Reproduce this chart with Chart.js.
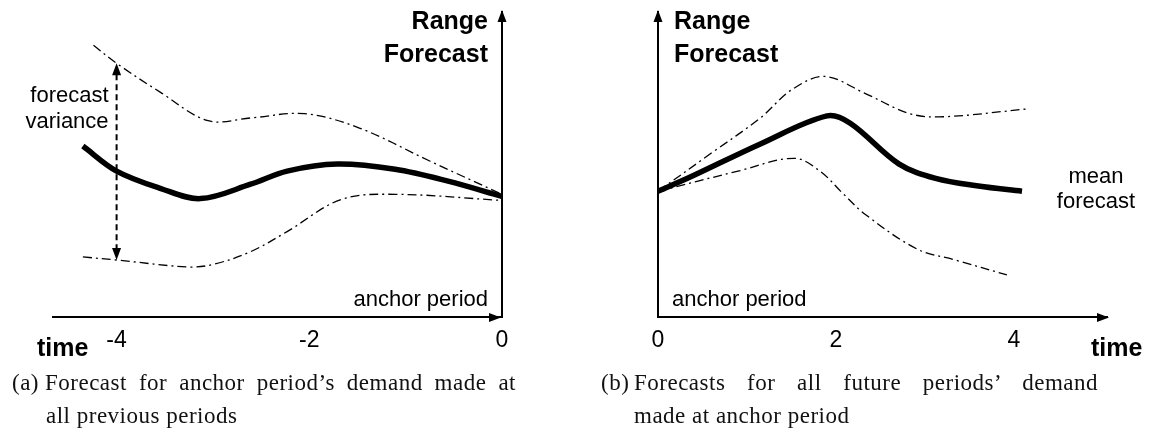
<!DOCTYPE html>
<html>
<head>
<meta charset="utf-8">
<script src="https://cdn.jsdelivr.net/npm/chart.js@4/dist/chart.umd.min.js"></script>
<style>
body{margin:0;background:#fff;width:1167px;height:441px;position:relative;overflow:hidden}
canvas{position:absolute;top:0}
#chartA{left:0}
#chartB{left:583px}
.cap{position:absolute;font-family:"Liberation Serif","Times New Roman",serif;font-size:23px;letter-spacing:0.5px;color:#111;line-height:32px;white-space:nowrap}
.just{text-align:justify;text-align-last:justify}
</style>
</head>
<body>
<canvas id="chartA" width="583" height="370"></canvas>
<canvas id="chartB" width="584" height="370"></canvas>

<div class="cap" style="left:12px;top:367px">(a)</div>
<div class="cap just" style="left:45px;top:367px;width:471px">Forecast for anchor period’s demand made at</div>
<div class="cap" style="left:46px;top:400px">all previous periods</div>

<div class="cap" style="left:601px;top:367px">(b)</div>
<div class="cap just" style="left:634px;top:367px;width:464px">Forecasts for all future periods’ demand</div>
<div class="cap" style="left:634px;top:400px">made at anchor period</div>

<script>
/* (a) forecasts of the anchor period made at earlier periods */
const meanTimeA  = [-4.35, -4, -3.54, -3.13, -2.61, -2.23, -1.71, -1.11, -0.56, 0];
const meanA      = [56.1, 47.9, 42.2, 38.9, 43.6, 47.9, 50.2, 48.5, 44.6, 39.6];
const upperTimeA = [-4.24, -4, -3.54, -3.05, -2.61, -2.05, -1.48, -0.75, 0];
const upperA     = [89.1, 83.2, 73.6, 64.4, 65.3, 66.7, 62.0, 51.2, 40.3];
const lowerTimeA = [-4.35, -4, -3.24, -2.98, -2.61, -2.23, -1.67, -1.11, 0];
const lowerA     = [19.8, 18.8, 16.5, 17.5, 21.5, 28.1, 38.6, 40.3, 38.3];
const ticksA     = [-4, -2, 0];

/* (b) forecasts of all future periods made at the anchor period */
const meanTimeB  = [0, 0.38, 1.15, 1.9, 2.16, 2.71, 3.12, 3.6, 4.09];
const meanB      = [41.3, 46.2, 56.8, 66.0, 63.6, 50.2, 45.5, 43.0, 41.3];
const upperTimeB = [0, 0.6, 1.15, 1.5, 1.87, 2.33, 2.83, 3.21, 4.16];
const upperB     = [41.3, 53.8, 65.3, 74.5, 78.9, 73.3, 66.7, 65.7, 68.3];
const lowerTimeB = [0, 0.9, 1.53, 1.82, 2.07, 2.33, 2.91, 3.34, 3.92];
const lowerB     = [41.3, 47.9, 52.1, 47.9, 40.8, 33.7, 22.4, 18.8, 13.9];
const ticksB     = [0, 2, 4];

const SANS = '"Liberation Sans", Arial, sans-serif';

function pts(xs, ys){
  return xs.map((x, i) => ({x: x, y: ys[i]}));
}

function meanSet(xs, ys){
  return {data: pts(xs, ys), borderColor: "#000", borderWidth: 5.5,
    pointRadius: 0, fill: false, tension: 0.35};
}

function bandSet(xs, ys){
  return {data: pts(xs, ys), borderColor: "#000", borderWidth: 1.3,
    borderDash: [9, 4, 2, 4], pointRadius: 0, fill: false, tension: 0.35};
}

function head(ctx, x, y, dir){
  ctx.beginPath();
  if(dir === "up"){ ctx.moveTo(x, y); ctx.lineTo(x - 4.5, y + 12); ctx.lineTo(x + 4.5, y + 12); }
  else if(dir === "down"){ ctx.moveTo(x, y); ctx.lineTo(x - 4.5, y - 12); ctx.lineTo(x + 4.5, y - 12); }
  else { ctx.moveTo(x, y); ctx.lineTo(x - 12, y - 4.5); ctx.lineTo(x - 12, y + 4.5); }
  ctx.closePath();
  ctx.fill();
}

function text(ctx, str, x, y, size, bold, align){
  ctx.font = (bold ? "bold " : "") + size + "px " + SANS;
  ctx.textAlign = align;
  ctx.textBaseline = "alphabetic";
  ctx.fillText(str, x, y);
}

function xAxis(min, max, tickList){
  return {
    type: "linear", position: "bottom", min: min, max: max,
    grid: {display: false, drawTicks: false},
    border: {color: "#000", width: 2},
    afterBuildTicks: s => { s.ticks = tickList.map(v => ({value: v})); },
    ticks: {color: "#000", padding: 9, maxRotation: 0, autoSkip: false,
      font: {family: SANS, size: 23}, callback: v => String(v)}
  };
}

function yAxis(pos){
  return {
    type: "linear", position: pos, min: 0, max: 100,
    grid: {display: false, drawTicks: false},
    border: {color: "#000", width: 2},
    ticks: {display: false}
  };
}

const common = {
  responsive: false,
  animation: false,
  events: [],
  plugins: {legend: {display: false}, tooltip: {enabled: false}}
};

/* panel (a) labels, axis arrows and the variance arrow */
const decorA = {
  id: "decorA",
  afterDraw(chart){
    const ctx = chart.ctx, a = chart.chartArea;
    const xs = chart.scales.x, ys = chart.scales.y;
    ctx.save();
    ctx.fillStyle = "#000";
    ctx.strokeStyle = "#000";
    head(ctx, a.right, a.top - 2, "up");
    head(ctx, a.right - 1, a.bottom, "right");

    // forecast variance at t = -4
    const vx = xs.getPixelForValue(upperTimeA[1]);
    const vTop = ys.getPixelForValue(upperA[1]);
    const vBot = ys.getPixelForValue(lowerA[1]);
    ctx.lineWidth = 2;
    ctx.setLineDash([6, 4]);
    ctx.beginPath();
    ctx.moveTo(vx, vTop + 11);
    ctx.lineTo(vx, vBot - 11);
    ctx.stroke();
    ctx.setLineDash([]);
    head(ctx, vx, vTop, "up");
    head(ctx, vx, vBot, "down");

    text(ctx, "Range", a.right - 14, 29, 25, true, "right");
    text(ctx, "Forecast", a.right - 14, 62, 25, true, "right");
    text(ctx, "forecast", vx - 8, 102, 22, false, "right");
    text(ctx, "variance", vx - 8, 128, 22, false, "right");
    text(ctx, "anchor period", a.right - 14, 306, 22, false, "right");
    text(ctx, "time", 37, 356, 25, true, "left");
    ctx.restore();
  }
};

/* panel (b) labels and axis arrows */
const decorB = {
  id: "decorB",
  afterDraw(chart){
    const ctx = chart.ctx, a = chart.chartArea;
    ctx.save();
    ctx.fillStyle = "#000";
    head(ctx, a.left, a.top - 2, "up");
    head(ctx, a.right + 2, a.bottom, "right");
    text(ctx, "Range", a.left + 16, 29, 25, true, "left");
    text(ctx, "Forecast", a.left + 16, 62, 25, true, "left");
    text(ctx, "mean", 513, 183, 22, false, "center");
    text(ctx, "forecast", 513, 208, 22, false, "center");
    text(ctx, "anchor period", a.left + 14, 306, 22, false, "left");
    text(ctx, "time", 508, 356, 25, true, "left");
    ctx.restore();
  }
};

new Chart(document.getElementById("chartA"), {
  type: "line",
  data: {datasets: [
    bandSet(upperTimeA, upperA),
    bandSet(lowerTimeA, lowerA),
    meanSet(meanTimeA, meanA)
  ]},
  options: Object.assign({}, common, {
    layout: {padding: {left: 53, right: 81, top: 12, bottom: 7}},
    scales: {x: xAxis(-4.66, 0, ticksA), y: yAxis("right")}
  }),
  plugins: [decorA]
});

new Chart(document.getElementById("chartB"), {
  type: "line",
  data: {datasets: [
    bandSet(upperTimeB, upperB),
    bandSet(lowerTimeB, lowerB),
    meanSet(meanTimeB, meanB)
  ]},
  options: Object.assign({}, common, {
    layout: {padding: {left: 75, right: 60, top: 12, bottom: 7}},
    scales: {x: xAxis(0, 5.045, ticksB), y: yAxis("left")}
  }),
  plugins: [decorB]
});
</script>
</body>
</html>
